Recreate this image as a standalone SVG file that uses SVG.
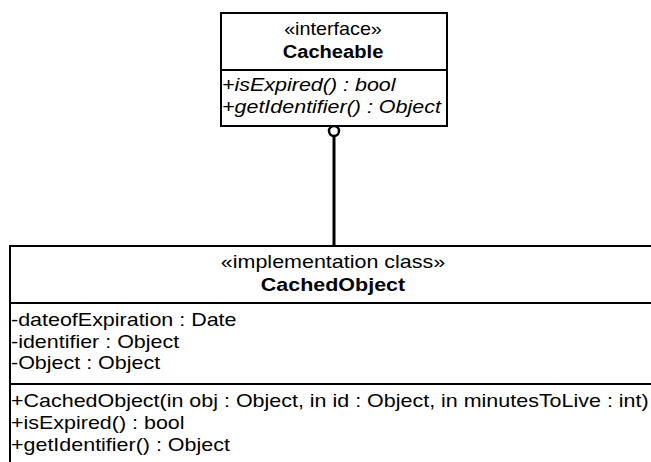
<svg xmlns="http://www.w3.org/2000/svg" width="651" height="462" viewBox="0 0 651 462">
<style>
text{font-family:"Liberation Sans",Arial,sans-serif;font-size:19px;fill:#000}
.c{text-anchor:middle}
.b{font-weight:bold}
.i{font-style:italic}
.box{fill:#fff;stroke:#000;stroke-width:2}
.div{stroke:#000;stroke-width:2}
</style>
<rect width="651" height="462" fill="#fff"/>
<g id="connectors">
<line x1="334" y1="136" x2="334" y2="246" stroke="#000" stroke-width="3"/>
<circle cx="334" cy="131" r="5" fill="#fff" stroke="#000" stroke-width="2.5"/>
</g>
<g id="Cacheable">
<rect class="box" x="221" y="13" width="226" height="113"/>
<line class="div" x1="221" y1="70" x2="447" y2="70"/>
<text class="c" transform="translate(333,35) scale(1.04,1)">«interface»</text>
<text class="c b" transform="translate(333,58) scale(1.06,1)">Cacheable</text>
<text class="i" transform="translate(222,91) scale(1.13,1)">+isExpired() : bool</text>
<text class="i" transform="translate(222,113) scale(1.13,1)">+getIdentifier() : Object</text>
</g>
<g id="CachedObject">
<rect class="box" x="10" y="246" width="700" height="260"/>
<line class="div" x1="10" y1="303" x2="710" y2="303"/>
<line class="div" x1="10" y1="384" x2="710" y2="384"/>
<text class="c" transform="translate(333,268) scale(1.13,1)">«implementation class»</text>
<text class="c b" transform="translate(333,291) scale(1.13,1)">CachedObject</text>
<text transform="translate(11,326) scale(1.13,1)">-dateofExpiration : Date</text>
<text transform="translate(11,348) scale(1.13,1)">-identifier : Object</text>
<text transform="translate(11,369) scale(1.13,1)">-Object : Object</text>
<text transform="translate(11,407) scale(1.13,1)">+CachedObject(in obj : Object, in id : Object, in minutesToLive : int)</text>
<text transform="translate(11,429) scale(1.13,1)">+isExpired() : bool</text>
<text transform="translate(11,451) scale(1.13,1)">+getIdentifier() : Object</text>
</g>
</svg>
